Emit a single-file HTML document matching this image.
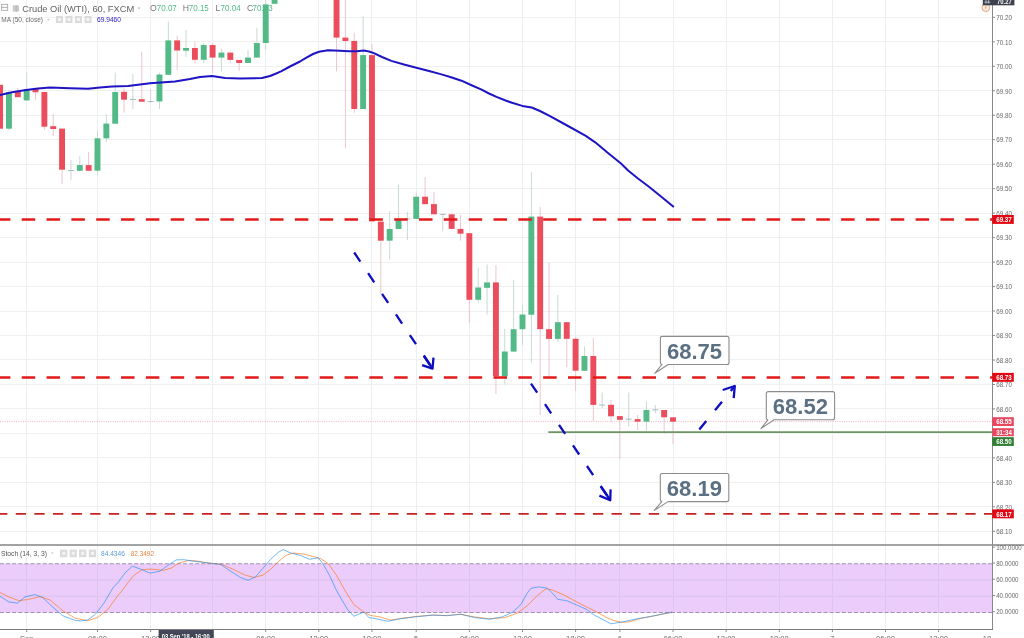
<!DOCTYPE html>
<html lang="en"><head><meta charset="utf-8"><title>Crude Oil (WTI), 60, FXCM</title>
<style>
html,body{margin:0;padding:0;background:#fff;}
body{width:1024px;height:638px;overflow:hidden;position:relative;font-family:"Liberation Sans",sans-serif;}
svg{position:absolute;left:0;top:0;display:block;}
text{font-family:"Liberation Sans",sans-serif;}
.ax{font-size:7.6px;fill:#686868;}
.lb{font-size:7.4px;fill:#fff;font-weight:bold;}
.co{font-size:22px;font-weight:bold;fill:#5b7083;}
</style></head><body>
<svg width="1024" height="638" viewBox="0 0 1024 638">
<rect x="0" y="0" width="1024" height="638" fill="#fff"/>
<g stroke="#f0f0f0" stroke-width="1" shape-rendering="crispEdges">
<line x1="26.5" y1="0" x2="26.5" y2="629.5" stroke="#e9eff2"/>
<line x1="97.5" y1="0" x2="97.5" y2="629.5" stroke="#e9eff2"/>
<line x1="150.5" y1="0" x2="150.5" y2="629.5" stroke="#e9eff2"/>
<line x1="212.5" y1="0" x2="212.5" y2="629.5" stroke="#e9eff2"/>
<line x1="265.5" y1="0" x2="265.5" y2="629.5" stroke="#e9eff2"/>
<line x1="318.5" y1="0" x2="318.5" y2="629.5" stroke="#e9eff2"/>
<line x1="371.5" y1="0" x2="371.5" y2="629.5" stroke="#e9eff2"/>
<line x1="416.5" y1="0" x2="416.5" y2="629.5" stroke="#e9eff2"/>
<line x1="469.5" y1="0" x2="469.5" y2="629.5" stroke="#e9eff2"/>
<line x1="522.5" y1="0" x2="522.5" y2="629.5" stroke="#e9eff2"/>
<line x1="575.5" y1="0" x2="575.5" y2="629.5" stroke="#e9eff2"/>
<line x1="619.5" y1="0" x2="619.5" y2="629.5" stroke="#e9eff2"/>
<line x1="673.5" y1="0" x2="673.5" y2="629.5" stroke="#e9eff2"/>
<line x1="726.5" y1="0" x2="726.5" y2="629.5" stroke="#e9eff2"/>
<line x1="779.5" y1="0" x2="779.5" y2="629.5" stroke="#e9eff2"/>
<line x1="832.5" y1="0" x2="832.5" y2="629.5" stroke="#e9eff2"/>
<line x1="885.5" y1="0" x2="885.5" y2="629.5" stroke="#e9eff2"/>
<line x1="938.5" y1="0" x2="938.5" y2="629.5" stroke="#e9eff2"/>
<line x1="0" y1="17.5" x2="992.5" y2="17.5"/>
<line x1="0" y1="41.5" x2="992.5" y2="41.5"/>
<line x1="0" y1="66.5" x2="992.5" y2="66.5"/>
<line x1="0" y1="90.5" x2="992.5" y2="90.5"/>
<line x1="0" y1="115.5" x2="992.5" y2="115.5"/>
<line x1="0" y1="139.5" x2="992.5" y2="139.5"/>
<line x1="0" y1="164.5" x2="992.5" y2="164.5"/>
<line x1="0" y1="188.5" x2="992.5" y2="188.5"/>
<line x1="0" y1="213.5" x2="992.5" y2="213.5"/>
<line x1="0" y1="237.5" x2="992.5" y2="237.5"/>
<line x1="0" y1="262.5" x2="992.5" y2="262.5"/>
<line x1="0" y1="286.5" x2="992.5" y2="286.5"/>
<line x1="0" y1="311.5" x2="992.5" y2="311.5"/>
<line x1="0" y1="335.5" x2="992.5" y2="335.5"/>
<line x1="0" y1="359.5" x2="992.5" y2="359.5"/>
<line x1="0" y1="384.5" x2="992.5" y2="384.5"/>
<line x1="0" y1="408.5" x2="992.5" y2="408.5"/>
<line x1="0" y1="433.5" x2="992.5" y2="433.5"/>
<line x1="0" y1="457.5" x2="992.5" y2="457.5"/>
<line x1="0" y1="482.5" x2="992.5" y2="482.5"/>
<line x1="0" y1="506.5" x2="992.5" y2="506.5"/>
<line x1="0" y1="531.5" x2="992.5" y2="531.5"/>
</g>
<rect x="0" y="563.75" width="992.5" height="48.75" fill="#ebccfb"/>
<g stroke="#d9c2ea" stroke-width="1"><line x1="0" y1="580.0" x2="992.5" y2="580.0"/><line x1="0" y1="596.2" x2="992.5" y2="596.2"/></g>
<g stroke="#dcc6ec" stroke-width="1" shape-rendering="crispEdges">
<line x1="26.5" y1="563.8" x2="26.5" y2="612.5"/>
<line x1="97.5" y1="563.8" x2="97.5" y2="612.5"/>
<line x1="150.5" y1="563.8" x2="150.5" y2="612.5"/>
<line x1="212.5" y1="563.8" x2="212.5" y2="612.5"/>
<line x1="265.5" y1="563.8" x2="265.5" y2="612.5"/>
<line x1="318.5" y1="563.8" x2="318.5" y2="612.5"/>
<line x1="371.5" y1="563.8" x2="371.5" y2="612.5"/>
<line x1="416.5" y1="563.8" x2="416.5" y2="612.5"/>
<line x1="469.5" y1="563.8" x2="469.5" y2="612.5"/>
<line x1="522.5" y1="563.8" x2="522.5" y2="612.5"/>
<line x1="575.5" y1="563.8" x2="575.5" y2="612.5"/>
<line x1="619.5" y1="563.8" x2="619.5" y2="612.5"/>
<line x1="673.5" y1="563.8" x2="673.5" y2="612.5"/>
<line x1="726.5" y1="563.8" x2="726.5" y2="612.5"/>
<line x1="779.5" y1="563.8" x2="779.5" y2="612.5"/>
<line x1="832.5" y1="563.8" x2="832.5" y2="612.5"/>
<line x1="885.5" y1="563.8" x2="885.5" y2="612.5"/>
<line x1="938.5" y1="563.8" x2="938.5" y2="612.5"/>
</g>
<g stroke="#a091b0" stroke-width="1.1" stroke-dasharray="4 2.1"><line x1="0" y1="563.75" x2="992.5" y2="563.75"/><line x1="0" y1="612.50" x2="992.5" y2="612.50"/></g>
<polyline points="0.0,592.5 8.8,596.9 18.8,600.6 27.6,599.6 40.1,596.6 50.1,600.0 62.7,610.7 75.2,618.2 87.7,620.7 97.7,617.5 107.8,609.4 117.8,595.6 121.1,591.9 128.0,582.5 133.6,575.6 142.4,569.6 151.1,569.1 163.7,570.3 171.2,568.1 178.7,563.1 188.7,560.5 196.2,560.9 206.3,562.8 216.3,563.7 223.0,564.9 233.1,569.3 245.6,575.3 254.4,577.5 263.1,575.0 270.7,569.3 278.2,561.8 285.7,555.5 293.2,553.0 303.2,554.0 313.3,556.5 320.8,558.7 328.3,563.7 336.3,575.0 345.1,590.6 353.8,604.4 362.6,611.3 370.1,615.4 380.2,616.9 390.2,620.1 402.7,618.2 417.7,616.3 432.8,615.1 447.0,615.4 460.8,614.4 474.6,616.9 489.6,618.8 504.7,617.6 517.2,613.2 527.2,605.7 537.3,595.6 546.0,588.7 552.3,590.0 564.0,595.0 576.6,601.9 586.6,606.9 596.6,611.9 606.7,617.6 614.2,620.7 621.7,622.2 629.2,621.9 639.2,618.8 651.8,616.3 664.3,613.8 672.0,612.5" fill="none" stroke="#ff6a00" stroke-opacity="0.6" stroke-width="1" stroke-linejoin="round"/>
<polyline points="0.0,596.2 8.8,601.9 17.5,603.1 25.0,596.9 35.0,594.6 42.6,597.5 52.6,606.9 62.7,615.7 75.2,620.4 80.2,620.9 87.7,620.0 95.2,614.4 104.0,603.1 112.8,588.1 118.6,581.8 125.0,573.0 132.3,566.2 141.1,569.3 149.9,573.1 159.9,571.2 168.7,564.9 176.2,559.9 183.7,559.7 193.7,561.2 203.8,562.4 213.8,563.7 220.5,564.3 230.6,571.2 240.6,577.5 248.1,580.3 255.6,576.8 263.1,568.1 270.7,559.3 278.2,552.4 283.2,549.5 290.7,553.0 300.7,555.5 309.5,559.3 318.3,557.8 323.3,564.3 329.6,575.6 336.0,589.4 340.1,596.9 347.6,609.4 353.8,616.3 363.9,611.9 368.9,617.6 376.4,618.8 387.7,621.3 400.2,618.8 415.2,616.9 432.8,615.1 447.0,615.7 460.8,614.2 474.6,617.6 489.6,619.2 502.2,616.9 512.2,612.5 521.0,604.4 527.2,593.1 531.0,588.4 538.5,586.9 547.3,588.1 552.3,593.1 557.8,599.4 566.6,600.6 576.6,605.0 586.6,609.4 594.1,615.1 601.6,618.8 610.8,623.8 622.0,622.0 637.0,618.8 652.0,616.2 672.0,612.0" fill="none" stroke="#1a8cf0" stroke-opacity="0.62" stroke-width="1" stroke-linejoin="round"/>
<g>
<rect x="1.6" y="4.4" width="6" height="6" fill="none" stroke="#b2b2b2" stroke-width="1"/><line x1="1.6" y1="7.4" x2="7.6" y2="7.4" stroke="#b2b2b2" stroke-width="1"/>
<rect x="12.8" y="5.3" width="6.2" height="6.3" fill="#c9c9c9"/><rect x="15.6" y="5.3" width="1.2" height="6.3" fill="#b9b9b9"/>
<text x="22.2" y="11.7" font-size="9.4" fill="#636363" textLength="112" lengthAdjust="spacingAndGlyphs">Crude Oil (WTI), 60, FXCM</text>
<path d="M137.5 7.5h3l-1.5 1.8z" fill="#b5b5b5"/>
<text y="10.9" font-size="8.7" fill="#53b987"><tspan x="150" fill="#777">O</tspan><tspan x="156.8" textLength="20" lengthAdjust="spacingAndGlyphs">70.07</tspan><tspan x="182.8" fill="#777">H</tspan><tspan x="188.8" textLength="20" lengthAdjust="spacingAndGlyphs">70.15</tspan><tspan x="215.6" fill="#777">L</tspan><tspan x="220.6" textLength="20" lengthAdjust="spacingAndGlyphs">70.04</tspan><tspan x="246.9" fill="#777">C</tspan><tspan x="252.6" textLength="20" lengthAdjust="spacingAndGlyphs">70.13</tspan></text>
<text x="1.2" y="22.1" font-size="6.6" fill="#6a6a6a" textLength="41.8" lengthAdjust="spacingAndGlyphs">MA (50, close)</text>
<path d="M47 19h2.6l-1.3 1.6z" fill="#bbb"/>
<rect x="56" y="16" width="7" height="7" fill="#dcdcdc"/><rect x="58" y="18" width="3" height="3" fill="#f4f4f4"/>
<rect x="65.5" y="16" width="7" height="7" fill="#dcdcdc"/><rect x="67.5" y="18" width="3" height="3" fill="#f4f4f4"/>
<rect x="75" y="16" width="7" height="7" fill="#dcdcdc"/><rect x="77" y="18" width="3" height="3" fill="#f4f4f4"/>
<rect x="84.5" y="16" width="7" height="7" fill="#dcdcdc"/><rect x="86.5" y="18" width="3" height="3" fill="#f4f4f4"/>
<text x="97" y="22.1" font-size="6.6" fill="#2a22c8" textLength="24" lengthAdjust="spacingAndGlyphs">69.9460</text>
<text x="1" y="556.2" font-size="7.6" fill="#555" textLength="46" lengthAdjust="spacingAndGlyphs">Stoch (14, 3, 3)</text>
<path d="M51 552.5h2.6l-1.3 1.6z" fill="#bbb"/>
<rect x="60" y="549.6" width="7.4" height="7.6" fill="#dcdcdc"/><rect x="62.2" y="551.8" width="3" height="3" fill="#f4f4f4"/>
<rect x="69.5" y="549.6" width="7.4" height="7.6" fill="#dcdcdc"/><rect x="71.7" y="551.8" width="3" height="3" fill="#f4f4f4"/>
<rect x="79" y="549.6" width="7.4" height="7.6" fill="#dcdcdc"/><rect x="81.2" y="551.8" width="3" height="3" fill="#f4f4f4"/>
<rect x="88.8" y="549.6" width="7.4" height="7.6" fill="#dcdcdc"/><rect x="91.0" y="551.8" width="3" height="3" fill="#f4f4f4"/>
<text x="101" y="556" font-size="7.2" fill="#5b9bd5" textLength="23.8" lengthAdjust="spacingAndGlyphs">84.4346</text>
<text x="130.8" y="556" font-size="7.2" fill="#e8833a" textLength="23.2" lengthAdjust="spacingAndGlyphs">82.3492</text>
</g>
<line x1="0" y1="421.6" x2="992.5" y2="421.6" stroke="#f3b4bc" stroke-width="1" stroke-dasharray="1 1.3"/>
<g>
<rect x="-0.40" y="84.8" width="1" height="43.9" fill="#eec6cb"/>
<rect x="-2.85" y="84.8" width="5.9" height="43.9" fill="#eb4d5c"/>
<rect x="8.45" y="90.0" width="1" height="40.0" fill="#c6dcd1"/>
<rect x="6.00" y="92.0" width="5.9" height="36.7" fill="#53b987"/>
<rect x="17.31" y="88.0" width="1" height="9.2" fill="#eec6cb"/>
<rect x="14.86" y="92.0" width="5.9" height="5.2" fill="#eb4d5c"/>
<rect x="26.16" y="72.5" width="1" height="27.9" fill="#c6dcd1"/>
<rect x="23.71" y="89.8" width="5.9" height="10.6" fill="#53b987"/>
<rect x="35.02" y="89.0" width="1" height="11.0" fill="#eec6cb"/>
<rect x="32.57" y="89.0" width="5.9" height="3.3" fill="#eb4d5c"/>
<rect x="43.87" y="92.0" width="1" height="38.0" fill="#eec6cb"/>
<rect x="41.42" y="92.0" width="5.9" height="34.7" fill="#eb4d5c"/>
<rect x="52.72" y="113.9" width="1" height="22.5" fill="#eec6cb"/>
<rect x="50.27" y="126.2" width="5.9" height="2.8" fill="#eb4d5c"/>
<rect x="61.58" y="128.6" width="1" height="55.4" fill="#eec6cb"/>
<rect x="59.13" y="128.6" width="5.9" height="41.1" fill="#eb4d5c"/>
<rect x="70.43" y="160.0" width="1" height="20.0" fill="#c9d6d8"/>
<rect x="67.93" y="170.0" width="6" height="0.9" fill="#9fb6b4"/>
<rect x="79.29" y="156.3" width="1" height="14.4" fill="#c6dcd1"/>
<rect x="76.84" y="165.1" width="5.9" height="5.7" fill="#53b987"/>
<rect x="88.14" y="152.0" width="1" height="18.8" fill="#eec6cb"/>
<rect x="85.69" y="165.1" width="5.9" height="5.7" fill="#eb4d5c"/>
<rect x="96.99" y="130.6" width="1" height="44.4" fill="#c6dcd1"/>
<rect x="94.54" y="138.3" width="5.9" height="32.4" fill="#53b987"/>
<rect x="105.85" y="113.9" width="1" height="28.1" fill="#c6dcd1"/>
<rect x="103.40" y="123.6" width="5.9" height="14.7" fill="#53b987"/>
<rect x="114.70" y="72.6" width="1" height="51.1" fill="#c6dcd1"/>
<rect x="112.25" y="92.0" width="5.9" height="31.7" fill="#53b987"/>
<rect x="123.56" y="88.3" width="1" height="24.3" fill="#eec6cb"/>
<rect x="121.11" y="91.8" width="5.9" height="7.9" fill="#eb4d5c"/>
<rect x="132.41" y="74.0" width="1" height="35.0" fill="#c9d6d8"/>
<rect x="129.91" y="99.0" width="6" height="0.9" fill="#9fb6b4"/>
<rect x="141.26" y="51.6" width="1" height="50.1" fill="#eec6cb"/>
<rect x="138.81" y="99.2" width="5.9" height="2.5" fill="#eb4d5c"/>
<rect x="150.12" y="89.0" width="1" height="13.8" fill="#c9d6d8"/>
<rect x="147.62" y="101.1" width="6" height="0.9" fill="#9fb6b4"/>
<rect x="158.97" y="72.7" width="1" height="36.3" fill="#c6dcd1"/>
<rect x="156.52" y="74.5" width="5.9" height="27.0" fill="#53b987"/>
<rect x="167.83" y="21.3" width="1" height="53.5" fill="#c6dcd1"/>
<rect x="165.38" y="40.4" width="5.9" height="34.4" fill="#53b987"/>
<rect x="176.68" y="35.7" width="1" height="34.3" fill="#eec6cb"/>
<rect x="174.23" y="40.4" width="5.9" height="10.1" fill="#eb4d5c"/>
<rect x="185.53" y="30.0" width="1" height="27.0" fill="#c6dcd1"/>
<rect x="183.08" y="48.0" width="5.9" height="2.7" fill="#53b987"/>
<rect x="194.39" y="42.0" width="1" height="21.0" fill="#eec6cb"/>
<rect x="191.94" y="48.0" width="5.9" height="11.8" fill="#eb4d5c"/>
<rect x="203.24" y="43.0" width="1" height="20.0" fill="#c6dcd1"/>
<rect x="200.79" y="45.0" width="5.9" height="14.8" fill="#53b987"/>
<rect x="212.10" y="43.0" width="1" height="30.3" fill="#eec6cb"/>
<rect x="209.65" y="45.0" width="5.9" height="12.6" fill="#eb4d5c"/>
<rect x="220.95" y="48.6" width="1" height="22.8" fill="#c6dcd1"/>
<rect x="218.50" y="52.6" width="5.9" height="5.0" fill="#53b987"/>
<rect x="229.80" y="52.6" width="1" height="10.0" fill="#eec6cb"/>
<rect x="227.35" y="52.6" width="5.9" height="7.3" fill="#eb4d5c"/>
<rect x="238.66" y="59.9" width="1" height="10.9" fill="#eec6cb"/>
<rect x="236.21" y="59.9" width="5.9" height="3.1" fill="#eb4d5c"/>
<rect x="247.51" y="50.0" width="1" height="13.0" fill="#c6dcd1"/>
<rect x="245.06" y="57.6" width="5.9" height="5.4" fill="#53b987"/>
<rect x="256.37" y="28.0" width="1" height="29.6" fill="#c6dcd1"/>
<rect x="253.92" y="43.0" width="5.9" height="14.6" fill="#53b987"/>
<rect x="265.22" y="-5.0" width="1" height="55.0" fill="#c6dcd1"/>
<rect x="262.77" y="4.4" width="5.9" height="38.6" fill="#53b987"/>
<rect x="274.07" y="-10.0" width="1" height="13.8" fill="#c6dcd1"/>
<rect x="271.62" y="-10.0" width="5.9" height="13.8" fill="#53b987"/>
<rect x="336.05" y="-10.0" width="1" height="81.4" fill="#eec6cb"/>
<rect x="333.60" y="-10.0" width="5.9" height="47.6" fill="#eb4d5c"/>
<rect x="344.91" y="-10.0" width="1" height="158.0" fill="#eec6cb"/>
<rect x="342.46" y="37.6" width="5.9" height="3.4" fill="#eb4d5c"/>
<rect x="353.76" y="32.6" width="1" height="80.2" fill="#eec6cb"/>
<rect x="351.31" y="40.9" width="5.9" height="68.1" fill="#eb4d5c"/>
<rect x="362.61" y="16.3" width="1" height="92.7" fill="#c6dcd1"/>
<rect x="360.16" y="55.1" width="5.9" height="53.9" fill="#53b987"/>
<rect x="371.47" y="43.9" width="1" height="177.5" fill="#eec6cb"/>
<rect x="369.02" y="55.1" width="5.9" height="166.3" fill="#eb4d5c"/>
<rect x="380.32" y="221.6" width="1" height="72.3" fill="#eec6cb"/>
<rect x="377.87" y="221.6" width="5.9" height="19.1" fill="#eb4d5c"/>
<rect x="389.18" y="211.0" width="1" height="48.4" fill="#c6dcd1"/>
<rect x="386.73" y="229.0" width="5.9" height="11.7" fill="#53b987"/>
<rect x="398.03" y="184.4" width="1" height="44.6" fill="#c6dcd1"/>
<rect x="395.58" y="218.8" width="5.9" height="10.2" fill="#53b987"/>
<rect x="406.88" y="212.0" width="1" height="28.0" fill="#c9d6d8"/>
<rect x="404.38" y="218.5" width="6" height="0.9" fill="#9fb6b4"/>
<rect x="415.74" y="192.6" width="1" height="26.3" fill="#c6dcd1"/>
<rect x="413.29" y="196.7" width="5.9" height="22.2" fill="#53b987"/>
<rect x="424.59" y="177.0" width="1" height="27.2" fill="#eec6cb"/>
<rect x="422.14" y="196.7" width="5.9" height="7.5" fill="#eb4d5c"/>
<rect x="433.45" y="192.0" width="1" height="22.3" fill="#eec6cb"/>
<rect x="431.00" y="204.1" width="5.9" height="10.2" fill="#eb4d5c"/>
<rect x="442.30" y="213.9" width="1" height="17.5" fill="#c9d6d8"/>
<rect x="439.80" y="213.9" width="6" height="0.9" fill="#9fb6b4"/>
<rect x="451.15" y="214.3" width="1" height="14.6" fill="#eec6cb"/>
<rect x="448.70" y="214.3" width="5.9" height="14.6" fill="#eb4d5c"/>
<rect x="460.01" y="215.0" width="1" height="25.7" fill="#eec6cb"/>
<rect x="457.56" y="228.9" width="5.9" height="4.8" fill="#eb4d5c"/>
<rect x="468.86" y="233.2" width="1" height="90.0" fill="#eec6cb"/>
<rect x="466.41" y="233.2" width="5.9" height="66.6" fill="#eb4d5c"/>
<rect x="477.72" y="267.6" width="1" height="34.9" fill="#c6dcd1"/>
<rect x="475.27" y="287.5" width="5.9" height="12.3" fill="#53b987"/>
<rect x="486.57" y="264.5" width="1" height="50.0" fill="#c6dcd1"/>
<rect x="484.12" y="282.4" width="5.9" height="5.4" fill="#53b987"/>
<rect x="495.42" y="265.0" width="1" height="128.9" fill="#eec6cb"/>
<rect x="492.97" y="282.4" width="5.9" height="93.9" fill="#eb4d5c"/>
<rect x="504.28" y="328.9" width="1" height="55.6" fill="#c6dcd1"/>
<rect x="501.83" y="351.5" width="5.9" height="24.8" fill="#53b987"/>
<rect x="513.13" y="280.0" width="1" height="71.6" fill="#c6dcd1"/>
<rect x="510.68" y="329.2" width="5.9" height="22.4" fill="#53b987"/>
<rect x="521.99" y="304.4" width="1" height="40.6" fill="#c6dcd1"/>
<rect x="519.54" y="314.5" width="5.9" height="14.7" fill="#53b987"/>
<rect x="530.84" y="171.9" width="1" height="190.6" fill="#c6dcd1"/>
<rect x="528.39" y="216.6" width="5.9" height="98.1" fill="#53b987"/>
<rect x="539.69" y="207.0" width="1" height="208.0" fill="#eec6cb"/>
<rect x="537.24" y="216.6" width="5.9" height="112.6" fill="#eb4d5c"/>
<rect x="548.55" y="262.6" width="1" height="113.1" fill="#eec6cb"/>
<rect x="546.10" y="329.2" width="5.9" height="9.7" fill="#eb4d5c"/>
<rect x="557.40" y="295.0" width="1" height="47.0" fill="#c6dcd1"/>
<rect x="554.95" y="322.2" width="5.9" height="16.7" fill="#53b987"/>
<rect x="566.26" y="322.2" width="1" height="45.1" fill="#eec6cb"/>
<rect x="563.81" y="322.2" width="5.9" height="16.6" fill="#eb4d5c"/>
<rect x="575.11" y="337.0" width="1" height="53.8" fill="#eec6cb"/>
<rect x="572.66" y="338.8" width="5.9" height="31.9" fill="#eb4d5c"/>
<rect x="583.96" y="346.3" width="1" height="24.5" fill="#c6dcd1"/>
<rect x="581.51" y="356.0" width="5.9" height="14.8" fill="#53b987"/>
<rect x="592.82" y="338.2" width="1" height="83.1" fill="#eec6cb"/>
<rect x="590.37" y="356.0" width="5.9" height="48.9" fill="#eb4d5c"/>
<rect x="601.67" y="392.5" width="1" height="15.7" fill="#c9d6d8"/>
<rect x="599.17" y="404.6" width="6" height="0.9" fill="#9fb6b4"/>
<rect x="610.53" y="400.0" width="1" height="22.0" fill="#eec6cb"/>
<rect x="608.08" y="404.8" width="5.9" height="11.5" fill="#eb4d5c"/>
<rect x="619.38" y="416.1" width="1" height="42.9" fill="#eec6cb"/>
<rect x="616.93" y="416.1" width="5.9" height="3.7" fill="#eb4d5c"/>
<rect x="628.23" y="392.5" width="1" height="33.9" fill="#c9d6d8"/>
<rect x="625.73" y="418.7" width="6" height="0.9" fill="#9fb6b4"/>
<rect x="637.09" y="415.0" width="1" height="15.0" fill="#eec6cb"/>
<rect x="634.64" y="419.1" width="5.9" height="2.6" fill="#eb4d5c"/>
<rect x="645.94" y="401.3" width="1" height="29.4" fill="#c6dcd1"/>
<rect x="643.49" y="410.0" width="5.9" height="11.7" fill="#53b987"/>
<rect x="654.80" y="405.0" width="1" height="8.2" fill="#c9d6d8"/>
<rect x="652.30" y="409.4" width="6" height="0.9" fill="#9fb6b4"/>
<rect x="663.65" y="410.0" width="1" height="23.9" fill="#eec6cb"/>
<rect x="661.20" y="410.0" width="5.9" height="7.3" fill="#eb4d5c"/>
<rect x="672.50" y="417.3" width="1" height="26.6" fill="#eec6cb"/>
<rect x="670.05" y="417.3" width="5.9" height="4.4" fill="#eb4d5c"/>
</g>
<polyline points="0.0,95.0 12.0,92.3 26.0,90.0 38.0,88.4 50.0,87.6 70.0,88.2 88.0,88.8 100.0,87.6 112.0,86.4 128.0,86.0 150.0,83.3 175.0,81.4 190.0,79.0 200.0,77.0 212.0,76.1 225.0,77.9 240.0,78.6 262.0,78.0 270.0,76.0 275.0,74.0 281.0,71.4 290.0,66.5 300.0,61.5 306.0,57.8 313.0,54.0 319.0,51.7 328.0,50.3 340.0,50.8 349.0,51.2 357.0,51.2 363.8,50.6 369.0,51.5 373.8,53.1 382.0,57.0 391.3,60.9 404.0,64.5 416.4,67.7 429.0,71.0 441.5,74.4 451.0,77.3 461.5,80.7 471.0,85.0 481.6,89.7 489.0,93.5 496.5,96.9 505.0,100.3 512.0,102.8 522.3,105.9 531.7,107.5 540.0,111.0 550.5,116.4 568.0,126.0 585.8,135.9 595.2,142.3 608.0,153.0 621.0,163.5 628.1,170.5 638.0,178.5 649.3,187.0 661.0,196.5 673.2,206.5" fill="none" stroke="#1f14c4" stroke-width="2" stroke-linejoin="round" stroke-linecap="round"/>
<line x1="-3.1" y1="219.6" x2="992.5" y2="219.6" stroke="#e21a1a" stroke-width="2.5" stroke-dasharray="13.5 11.33"/>
<line x1="-3.1" y1="377.4" x2="992.5" y2="377.4" stroke="#e21a1a" stroke-width="2.5" stroke-dasharray="13.5 11.33"/>
<line x1="-2.9" y1="513.9" x2="992.5" y2="513.9" stroke="#c62222" stroke-width="1.7" stroke-dasharray="10.3 8.32"/>
<line x1="548.3" y1="432.1" x2="992.5" y2="432.1" stroke="#6f9463" stroke-width="1.7"/>
<line x1="354.2" y1="252.5" x2="432.5" y2="368.7" stroke="#0d0dc2" stroke-width="2.3" stroke-dasharray="11 13.9"/>
<polyline points="433.5,357.6 432.5,368.7 422.1,365.2" fill="none" stroke="#0d0dc2" stroke-width="2.3" stroke-linejoin="round" stroke-linecap="butt"/>
<line x1="423.8" y1="355.5" x2="431.5" y2="367" stroke="#0d0dc2" stroke-width="2.3"/>
<line x1="531.0" y1="383.6" x2="610.25" y2="500.25" stroke="#0d0dc2" stroke-width="2.3" stroke-dasharray="11 13.9"/>
<polyline points="610.6,489.4 610.25,500.25 599.4,495.6" fill="none" stroke="#0d0dc2" stroke-width="2.3" stroke-linejoin="round" stroke-linecap="butt"/>
<line x1="600.6" y1="486" x2="609.5" y2="499" stroke="#0d0dc2" stroke-width="2.3"/>
<line x1="699.3" y1="429.6" x2="734.8" y2="386.0" stroke="#0d0dc2" stroke-width="2.3" stroke-dasharray="11 13.9"/>
<polyline points="722.7,390.0 734.8,386.0 733.7,398.2" fill="none" stroke="#0d0dc2" stroke-width="2.3" stroke-linejoin="round" stroke-linecap="butt"/>
<path d="M662.4,336.4 H727.0 Q729.0,336.4 729.0,338.4 V362.5 Q729.0,364.5 727.0,364.5 H668.2 L654.8,373.3 L661.9,364.5 Q660.4,364.5 660.4,362.5 V338.4 Q660.4,336.4 662.4,336.4 Z" fill="#fff" stroke="#8c8c8c" stroke-width="1.1" stroke-linejoin="round"/>
<text class="co" x="666.9" y="358.7" textLength="55.2" lengthAdjust="spacingAndGlyphs">68.75</text>
<path d="M768.3,391.6 H832.5999999999999 Q834.5999999999999,391.6 834.5999999999999,393.6 V417.8 Q834.5999999999999,419.8 832.5999999999999,419.8 H774.1 L761.0,428.6 L767.8,419.8 Q766.3,419.8 766.3,417.8 V393.6 Q766.3,391.6 768.3,391.6 Z" fill="#fff" stroke="#8c8c8c" stroke-width="1.1" stroke-linejoin="round"/>
<text class="co" x="772.8" y="414.0" textLength="55.2" lengthAdjust="spacingAndGlyphs">68.52</text>
<path d="M662.3,473.5 H726.8 Q728.8,473.5 728.8,475.5 V499.6 Q728.8,501.6 726.8,501.6 H668.1 L654.3,510.4 L661.8,501.6 Q660.3,501.6 660.3,499.6 V475.5 Q660.3,473.5 662.3,473.5 Z" fill="#fff" stroke="#8c8c8c" stroke-width="1.1" stroke-linejoin="round"/>
<text class="co" x="666.8" y="495.8" textLength="55.2" lengthAdjust="spacingAndGlyphs">68.19</text>
<rect x="992.5" y="0" width="31.5" height="638" fill="#fff"/>
<rect x="0" y="544.1" width="1024" height="1.8" fill="#9a9a9a"/>
<line x1="992.5" y1="0" x2="992.5" y2="629.5" stroke="#888" stroke-width="1"/>
<line x1="0" y1="629.5" x2="993.0" y2="629.5" stroke="#7a7a7a" stroke-width="1"/>
<g class="ax">
<line x1="992.5" y1="17.3" x2="995.0" y2="17.3" stroke="#8a8a8a" stroke-width="1"/>
<text x="996.2" y="20.0" textLength="15.8" lengthAdjust="spacingAndGlyphs">70.20</text>
<line x1="992.5" y1="41.8" x2="995.0" y2="41.8" stroke="#8a8a8a" stroke-width="1"/>
<text x="996.2" y="44.5" textLength="15.8" lengthAdjust="spacingAndGlyphs">70.10</text>
<line x1="992.5" y1="66.3" x2="995.0" y2="66.3" stroke="#8a8a8a" stroke-width="1"/>
<text x="996.2" y="69.0" textLength="15.8" lengthAdjust="spacingAndGlyphs">70.00</text>
<line x1="992.5" y1="90.8" x2="995.0" y2="90.8" stroke="#8a8a8a" stroke-width="1"/>
<text x="996.2" y="93.5" textLength="15.8" lengthAdjust="spacingAndGlyphs">69.90</text>
<line x1="992.5" y1="115.2" x2="995.0" y2="115.2" stroke="#8a8a8a" stroke-width="1"/>
<text x="996.2" y="117.9" textLength="15.8" lengthAdjust="spacingAndGlyphs">69.80</text>
<line x1="992.5" y1="139.7" x2="995.0" y2="139.7" stroke="#8a8a8a" stroke-width="1"/>
<text x="996.2" y="142.4" textLength="15.8" lengthAdjust="spacingAndGlyphs">69.70</text>
<line x1="992.5" y1="164.2" x2="995.0" y2="164.2" stroke="#8a8a8a" stroke-width="1"/>
<text x="996.2" y="166.9" textLength="15.8" lengthAdjust="spacingAndGlyphs">69.60</text>
<line x1="992.5" y1="188.7" x2="995.0" y2="188.7" stroke="#8a8a8a" stroke-width="1"/>
<text x="996.2" y="191.4" textLength="15.8" lengthAdjust="spacingAndGlyphs">69.50</text>
<line x1="992.5" y1="213.1" x2="995.0" y2="213.1" stroke="#8a8a8a" stroke-width="1"/>
<text x="996.2" y="215.8" textLength="15.8" lengthAdjust="spacingAndGlyphs">69.40</text>
<line x1="992.5" y1="237.6" x2="995.0" y2="237.6" stroke="#8a8a8a" stroke-width="1"/>
<text x="996.2" y="240.3" textLength="15.8" lengthAdjust="spacingAndGlyphs">69.30</text>
<line x1="992.5" y1="262.1" x2="995.0" y2="262.1" stroke="#8a8a8a" stroke-width="1"/>
<text x="996.2" y="264.8" textLength="15.8" lengthAdjust="spacingAndGlyphs">69.20</text>
<line x1="992.5" y1="286.6" x2="995.0" y2="286.6" stroke="#8a8a8a" stroke-width="1"/>
<text x="996.2" y="289.3" textLength="15.8" lengthAdjust="spacingAndGlyphs">69.10</text>
<line x1="992.5" y1="311.0" x2="995.0" y2="311.0" stroke="#8a8a8a" stroke-width="1"/>
<text x="996.2" y="313.7" textLength="15.8" lengthAdjust="spacingAndGlyphs">69.00</text>
<line x1="992.5" y1="335.5" x2="995.0" y2="335.5" stroke="#8a8a8a" stroke-width="1"/>
<text x="996.2" y="338.2" textLength="15.8" lengthAdjust="spacingAndGlyphs">68.90</text>
<line x1="992.5" y1="360.0" x2="995.0" y2="360.0" stroke="#8a8a8a" stroke-width="1"/>
<text x="996.2" y="362.7" textLength="15.8" lengthAdjust="spacingAndGlyphs">68.80</text>
<line x1="992.5" y1="384.5" x2="995.0" y2="384.5" stroke="#8a8a8a" stroke-width="1"/>
<text x="996.2" y="387.2" textLength="15.8" lengthAdjust="spacingAndGlyphs">68.70</text>
<line x1="992.5" y1="408.9" x2="995.0" y2="408.9" stroke="#8a8a8a" stroke-width="1"/>
<text x="996.2" y="411.6" textLength="15.8" lengthAdjust="spacingAndGlyphs">68.60</text>
<line x1="992.5" y1="433.4" x2="995.0" y2="433.4" stroke="#8a8a8a" stroke-width="1"/>
<text x="996.2" y="436.1" textLength="15.8" lengthAdjust="spacingAndGlyphs">68.50</text>
<line x1="992.5" y1="457.9" x2="995.0" y2="457.9" stroke="#8a8a8a" stroke-width="1"/>
<text x="996.2" y="460.6" textLength="15.8" lengthAdjust="spacingAndGlyphs">68.40</text>
<line x1="992.5" y1="482.4" x2="995.0" y2="482.4" stroke="#8a8a8a" stroke-width="1"/>
<text x="996.2" y="485.1" textLength="15.8" lengthAdjust="spacingAndGlyphs">68.30</text>
<line x1="992.5" y1="506.8" x2="995.0" y2="506.8" stroke="#8a8a8a" stroke-width="1"/>
<text x="996.2" y="509.5" textLength="15.8" lengthAdjust="spacingAndGlyphs">68.20</text>
<line x1="992.5" y1="531.3" x2="995.0" y2="531.3" stroke="#8a8a8a" stroke-width="1"/>
<text x="996.2" y="534.0" textLength="15.8" lengthAdjust="spacingAndGlyphs">68.10</text>
<line x1="992.5" y1="547.1" x2="995.0" y2="547.1" stroke="#8a8a8a" stroke-width="1"/>
<text x="996.2" y="549.8" textLength="25.5" lengthAdjust="spacingAndGlyphs">100.0000</text>
<line x1="992.5" y1="563.0" x2="995.0" y2="563.0" stroke="#8a8a8a" stroke-width="1"/>
<text x="996.2" y="565.7" textLength="22.3" lengthAdjust="spacingAndGlyphs">80.0000</text>
<line x1="992.5" y1="579.2" x2="995.0" y2="579.2" stroke="#8a8a8a" stroke-width="1"/>
<text x="996.2" y="581.9" textLength="22.3" lengthAdjust="spacingAndGlyphs">60.0000</text>
<line x1="992.5" y1="595.5" x2="995.0" y2="595.5" stroke="#8a8a8a" stroke-width="1"/>
<text x="996.2" y="598.2" textLength="22.3" lengthAdjust="spacingAndGlyphs">40.0000</text>
<line x1="992.5" y1="611.7" x2="995.0" y2="611.7" stroke="#8a8a8a" stroke-width="1"/>
<text x="996.2" y="614.4" textLength="22.3" lengthAdjust="spacingAndGlyphs">20.0000</text>
</g>
<rect x="992.2" y="215.0" width="21.6" height="8.9" fill="#e30613"/>
<text class="lb" x="996.2" y="222.1" textLength="15.6" lengthAdjust="spacingAndGlyphs">69.37</text>
<rect x="992.2" y="372.9" width="21.6" height="8.9" fill="#e30613"/>
<text class="lb" x="996.2" y="380.1" textLength="15.6" lengthAdjust="spacingAndGlyphs">68.73</text>
<rect x="992.2" y="509.4" width="21.6" height="8.9" fill="#e30613"/>
<text class="lb" x="996.2" y="516.5" textLength="15.6" lengthAdjust="spacingAndGlyphs">68.17</text>
<rect x="992.2" y="417.2" width="21.6" height="8.8" fill="#e8475f"/>
<text class="lb" x="996.2" y="424.3" textLength="15.6" lengthAdjust="spacingAndGlyphs">68.55</text>
<rect x="992.2" y="428.2" width="21.6" height="8.0" fill="#e8475f"/>
<text class="lb" x="996.2" y="434.9" textLength="15.6" lengthAdjust="spacingAndGlyphs">31:34</text>
<rect x="992.2" y="437.2" width="21.6" height="8.7" fill="#2e7d32"/>
<text class="lb" x="996.2" y="444.2" textLength="15.6" lengthAdjust="spacingAndGlyphs">68.50</text>
<circle cx="985.8" cy="7.6" r="3.9" fill="#fcebe0" stroke="#e3a57c" stroke-width="1"/>
<path d="M985.8 6.2v2.4" stroke="#e8945a" stroke-width="1"/>
<rect x="982.8" y="-1" width="31.6" height="6.3" fill="#3c414d"/>
<text x="997" y="3.7" font-size="7.4" font-weight="bold" fill="#fff" textLength="14.7" lengthAdjust="spacingAndGlyphs">70.27</text>
<path d="M986 0v3.6M988.6 0v3.6M984.4 2.2h6" stroke="#c9ccd3" stroke-width="0.8" fill="none"/>
<g class="ax">
<line x1="26.7" y1="629.5" x2="26.7" y2="632.0" stroke="#8a8a8a" stroke-width="1"/>
<text x="26.7" y="640.5" text-anchor="middle">Sep</text>
<line x1="97.5" y1="629.5" x2="97.5" y2="632.0" stroke="#8a8a8a" stroke-width="1"/>
<text x="97.5" y="640.5" text-anchor="middle">06:00</text>
<line x1="150.6" y1="629.5" x2="150.6" y2="632.0" stroke="#8a8a8a" stroke-width="1"/>
<text x="150.6" y="640.5" text-anchor="middle">12:00</text>
<line x1="265.7" y1="629.5" x2="265.7" y2="632.0" stroke="#8a8a8a" stroke-width="1"/>
<text x="265.7" y="640.5" text-anchor="middle">06:00</text>
<line x1="318.8" y1="629.5" x2="318.8" y2="632.0" stroke="#8a8a8a" stroke-width="1"/>
<text x="318.8" y="640.5" text-anchor="middle">12:00</text>
<line x1="372.0" y1="629.5" x2="372.0" y2="632.0" stroke="#8a8a8a" stroke-width="1"/>
<text x="372.0" y="640.5" text-anchor="middle">18:00</text>
<line x1="416.2" y1="629.5" x2="416.2" y2="632.0" stroke="#8a8a8a" stroke-width="1"/>
<text x="416.2" y="640.5" text-anchor="middle">5</text>
<line x1="469.4" y1="629.5" x2="469.4" y2="632.0" stroke="#8a8a8a" stroke-width="1"/>
<text x="469.4" y="640.5" text-anchor="middle">06:00</text>
<line x1="522.5" y1="629.5" x2="522.5" y2="632.0" stroke="#8a8a8a" stroke-width="1"/>
<text x="522.5" y="640.5" text-anchor="middle">12:00</text>
<line x1="575.6" y1="629.5" x2="575.6" y2="632.0" stroke="#8a8a8a" stroke-width="1"/>
<text x="575.6" y="640.5" text-anchor="middle">18:00</text>
<line x1="619.9" y1="629.5" x2="619.9" y2="632.0" stroke="#8a8a8a" stroke-width="1"/>
<text x="619.9" y="640.5" text-anchor="middle">6</text>
<line x1="673.0" y1="629.5" x2="673.0" y2="632.0" stroke="#8a8a8a" stroke-width="1"/>
<text x="673.0" y="640.5" text-anchor="middle">06:00</text>
<line x1="726.1" y1="629.5" x2="726.1" y2="632.0" stroke="#8a8a8a" stroke-width="1"/>
<text x="726.1" y="640.5" text-anchor="middle">12:00</text>
<line x1="779.3" y1="629.5" x2="779.3" y2="632.0" stroke="#8a8a8a" stroke-width="1"/>
<text x="779.3" y="640.5" text-anchor="middle">18:00</text>
<line x1="832.4" y1="629.5" x2="832.4" y2="632.0" stroke="#8a8a8a" stroke-width="1"/>
<text x="832.4" y="640.5" text-anchor="middle">7</text>
<line x1="885.5" y1="629.5" x2="885.5" y2="632.0" stroke="#8a8a8a" stroke-width="1"/>
<text x="885.5" y="640.5" text-anchor="middle">06:00</text>
<line x1="938.6" y1="629.5" x2="938.6" y2="632.0" stroke="#8a8a8a" stroke-width="1"/>
<text x="938.6" y="640.5" text-anchor="middle">12:00</text>
<text x="987" y="640.5" text-anchor="middle">18</text>
</g>
<rect x="158.6" y="630" width="55.2" height="9" fill="#424857"/>
<text x="185.7" y="638.5" font-size="7.4" font-weight="bold" fill="#fff" text-anchor="middle" textLength="48" lengthAdjust="spacingAndGlyphs">03 Sep '18 - 16:00</text>
</svg>
</body></html>
